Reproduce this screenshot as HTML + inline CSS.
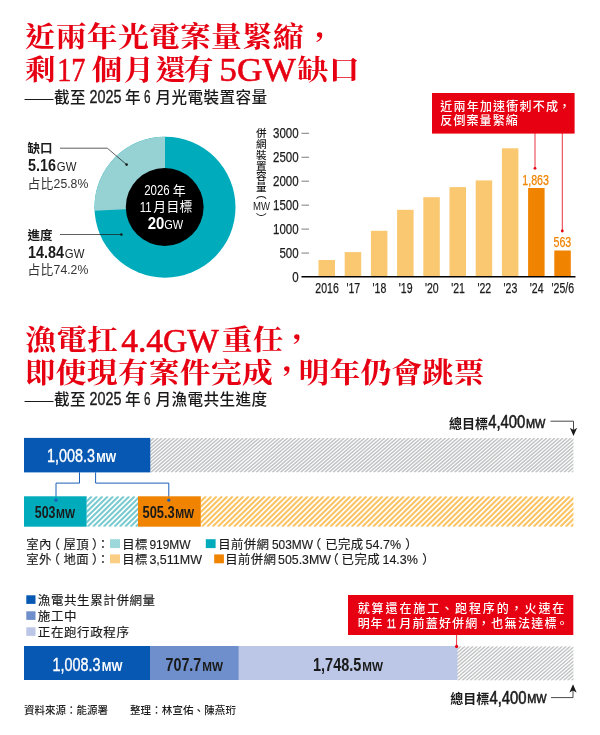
<!DOCTYPE html>
<html lang="zh-Hant">
<head>
<meta charset="utf-8">
<title>光電案量與漁電共生進度</title>
<style>
html,body{margin:0;padding:0;background:#fff;}
body{width:600px;height:735px;overflow:hidden;position:relative;}
svg{position:absolute;left:0;top:0;display:block;}
text{font-family:"Liberation Sans","Noto Sans CJK TC","Noto Sans CJK SC",sans-serif;fill:#1a1a1a;white-space:pre;}
.ttl{font-family:"Liberation Serif","Noto Serif CJK TC","Noto Serif CJK SC",serif;fill:#e60012;}
.tl{font-family:"Liberation Serif","Noto Serif CJK TC","Noto Serif CJK SC",serif;fill:#e60012;stroke:#e60012;stroke-width:0.55px;}
.w{fill:#fff;}
.g{fill:#333;}
.o{fill:#f08300;stroke:#f08300;stroke-width:.25px;}
.m{stroke:#1a1a1a;stroke-width:.25px;}
.m2{stroke:#1a1a1a;stroke-width:.15px;}
.m3{stroke:#1a1a1a;stroke-width:.35px;}
.mm{stroke:#1a1a1a;stroke-width:.6px;}
.wm{fill:#fff;stroke:#fff;stroke-width:.35px;}
</style>
</head>
<body>
<svg width="600" height="735" viewBox="0 0 600 735">
<g id="title1">
<text x="24.80" y="0" font-size="30.8" class="ttl" font-weight="700" letter-spacing="0.25" transform="translate(0 46.85) scale(1 0.92)">近兩年光電案量緊縮</text>
<text x="303.95" y="0" font-size="30.8" class="ttl" font-weight="700" letter-spacing="0.25" transform="translate(0 49.45) scale(1 0.92)">，</text>
<text x="24.80" y="0" font-size="30.8" class="ttl" font-weight="700" letter-spacing="0.25" transform="translate(0 80.00) scale(1 0.92)">剩</text>
<text x="57.20" y="81.40" font-size="33.5" class="tl" font-weight="400" textLength="28.34" lengthAdjust="spacingAndGlyphs">17</text>
<text x="91.70" y="0" font-size="30.8" class="ttl" font-weight="700" letter-spacing="0.25" transform="translate(0 80.00) scale(1 0.92)">個</text>
<text x="123.40" y="0" font-size="30.8" class="ttl" font-weight="700" letter-spacing="0.25" transform="translate(0 80.00) scale(1 0.92)">月</text>
<text x="155.60" y="0" font-size="30.8" class="ttl" font-weight="700" letter-spacing="0.25" transform="translate(0 80.00) scale(1 0.92)">還</text>
<text x="182.90" y="0" font-size="30.8" class="ttl" font-weight="700" letter-spacing="0.25" transform="translate(0 80.00) scale(1 0.92)">有</text>
<text x="219.30" y="81.40" font-size="33.5" class="tl" font-weight="400" textLength="76.55" lengthAdjust="spacingAndGlyphs">5GW</text>
<text x="297.60" y="0" font-size="30.8" class="ttl" font-weight="700" letter-spacing="0.25" transform="translate(0 80.00) scale(1 0.92)">缺口</text>
<text x="24.50" y="102.60" font-size="14.5" font-weight="500">——</text>
<text x="54.10" y="102.60" font-size="15.6" font-weight="500" letter-spacing="0.4">截至</text>
<text x="89.50" y="103.40" font-size="17.5" class="m3" font-weight="400" textLength="31.99" lengthAdjust="spacingAndGlyphs">2025</text>
<text x="125" y="102.60" font-size="15.6" font-weight="500" letter-spacing="0.4">年</text>
<text x="144" y="103.40" font-size="17.5" class="m3" font-weight="400" textLength="6.50" lengthAdjust="spacingAndGlyphs">6</text>
<text x="155.60" y="102.60" font-size="15.6" font-weight="500" letter-spacing="0.4">月光電裝置容量</text>
</g>
<g id="donut">
<circle cx="165" cy="207.2" r="70.5" fill="#00abbb"/>
<path d="M165 207.2 L165 136.7 A70.5 70.5 0 0 0 94.59 210.74 Z" fill="#96d1d4"/>
<circle cx="164.7" cy="207" r="38.9" fill="#000"/>
<text x="144.20" y="195.30" font-size="14.5" class="w" font-weight="400" textLength="25.48" lengthAdjust="spacingAndGlyphs">2026</text>
<text x="172.80" y="195" font-size="13" class="w" font-weight="400">年</text>
<text x="139.80" y="211.70" font-size="14.5" class="w" font-weight="400" textLength="11.89" lengthAdjust="spacingAndGlyphs">11</text>
<text x="153.30" y="211.40" font-size="12.8" class="w" font-weight="400" letter-spacing="0.3">月目標</text>
<text x="147.80" y="229.20" font-size="17" class="w" font-weight="700" textLength="16.64" lengthAdjust="spacingAndGlyphs">20</text>
<text x="164.20" y="229.20" font-size="12.5" class="w" font-weight="400" textLength="18.94" lengthAdjust="spacingAndGlyphs">GW</text>
<path d="M60 148.2 H107.3 L126.6 164.6" fill="none" stroke="#1a1a1a" stroke-width="0.7"/>
<circle cx="126.6" cy="164.6" r="1.3" fill="#1a1a1a"/>
<path d="M60 234.5 H121.4" fill="none" stroke="#1a1a1a" stroke-width="0.7"/>
<circle cx="121.4" cy="234.5" r="1.3" fill="#1a1a1a"/>
<text x="27.60" y="152.80" font-size="12.5" font-weight="700">缺口</text>
<text x="28" y="171.30" font-size="17" font-weight="700" textLength="28.02" lengthAdjust="spacingAndGlyphs">5.16</text>
<text x="56.82" y="171.30" font-size="13.5" font-weight="400" textLength="19.52" lengthAdjust="spacingAndGlyphs">GW</text>
<text x="27.60" y="187.60" font-size="12.8" class="g" font-weight="400">占比</text>
<text x="53.60" y="187.60" font-size="12.5" class="g" font-weight="400" textLength="34.73" lengthAdjust="spacingAndGlyphs">25.8%</text>
<text x="27.60" y="239.50" font-size="12.5" font-weight="700">進度</text>
<text x="28" y="258.30" font-size="17" font-weight="700" textLength="36.03" lengthAdjust="spacingAndGlyphs">14.84</text>
<text x="64.83" y="258.30" font-size="13.5" font-weight="400" textLength="19.52" lengthAdjust="spacingAndGlyphs">GW</text>
<text x="27.60" y="273.90" font-size="12.8" class="g" font-weight="400">占比</text>
<text x="53.60" y="273.90" font-size="12.5" class="g" font-weight="400" textLength="34.73" lengthAdjust="spacingAndGlyphs">74.2%</text>
</g>
<g id="bars">
<path d="M301.5 253.05 H309 M301.5 229.10 H309 M301.5 205.15 H309 M301.5 181.20 H309 M301.5 157.25 H309 M301.5 133.30 H309" stroke="#444" stroke-width="0.7" fill="none"/>
<text x="292.19" y="282" font-size="14.4" class="m" textLength="6.41" lengthAdjust="spacingAndGlyphs">0</text>
<text x="279.38" y="258.05" font-size="14.4" class="m" textLength="19.22" lengthAdjust="spacingAndGlyphs">500</text>
<text x="272.97" y="234.10" font-size="14.4" class="m" textLength="25.63" lengthAdjust="spacingAndGlyphs">1000</text>
<text x="272.97" y="210.15" font-size="14.4" class="m" textLength="25.63" lengthAdjust="spacingAndGlyphs">1500</text>
<text x="272.97" y="186.20" font-size="14.4" class="m" textLength="25.63" lengthAdjust="spacingAndGlyphs">2000</text>
<text x="272.97" y="162.25" font-size="14.4" class="m" textLength="25.63" lengthAdjust="spacingAndGlyphs">2500</text>
<text x="272.97" y="138.30" font-size="14.4" class="m" textLength="25.63" lengthAdjust="spacingAndGlyphs">3000</text>
<rect x="318.5" y="260" width="16.5" height="17.0" fill="#f9c871"/>
<rect x="344.7" y="252.1" width="16.5" height="24.9" fill="#f9c871"/>
<rect x="370.9" y="230.8" width="16.5" height="46.2" fill="#f9c871"/>
<rect x="397.1" y="209.8" width="16.5" height="67.2" fill="#f9c871"/>
<rect x="423.3" y="197.2" width="16.5" height="79.8" fill="#f9c871"/>
<rect x="449.5" y="187.1" width="16.5" height="89.9" fill="#f9c871"/>
<rect x="475.7" y="180.4" width="16.5" height="96.6" fill="#f9c871"/>
<rect x="501.9" y="148.3" width="16.5" height="128.7" fill="#f9c871"/>
<rect x="528.1" y="188" width="16.5" height="89.0" fill="#f08300"/>
<rect x="554.3" y="250.5" width="16.5" height="26.5" fill="#f08300"/>
<path d="M301.5 276.8 H575.5" stroke="#000" stroke-width="1.6"/>
<text x="315.36" y="293" font-size="14.4" class="m" textLength="23.39" lengthAdjust="spacingAndGlyphs">2016</text>
<text x="346.40" y="293" font-size="14.4" class="m" textLength="13.70" lengthAdjust="spacingAndGlyphs">'17</text>
<text x="372.60" y="293" font-size="14.4" class="m" textLength="13.70" lengthAdjust="spacingAndGlyphs">'18</text>
<text x="398.80" y="293" font-size="14.4" class="m" textLength="13.70" lengthAdjust="spacingAndGlyphs">'19</text>
<text x="425" y="293" font-size="14.4" class="m" textLength="13.70" lengthAdjust="spacingAndGlyphs">'20</text>
<text x="451.20" y="293" font-size="14.4" class="m" textLength="13.70" lengthAdjust="spacingAndGlyphs">'21</text>
<text x="477.40" y="293" font-size="14.4" class="m" textLength="13.70" lengthAdjust="spacingAndGlyphs">'22</text>
<text x="503.60" y="293" font-size="14.4" class="m" textLength="13.70" lengthAdjust="spacingAndGlyphs">'23</text>
<text x="529.80" y="293" font-size="14.4" class="m" textLength="13.70" lengthAdjust="spacingAndGlyphs">'24</text>
<text x="551.62" y="293" font-size="14.4" class="m" textLength="22.47" lengthAdjust="spacingAndGlyphs">'25/6</text>
<text x="522.27" y="185.30" font-size="14.4" class="o" textLength="26.67" lengthAdjust="spacingAndGlyphs">1,863</text>
<text x="553.51" y="246.90" font-size="14.4" class="o" textLength="17.78" lengthAdjust="spacingAndGlyphs">563</text>
<text x="256" y="137" font-size="10.6" font-weight="500">併</text>
<text x="256" y="147.85" font-size="10.6" font-weight="500">網</text>
<text x="256" y="158.70" font-size="10.6" font-weight="500">裝</text>
<text x="256" y="169.55" font-size="10.6" font-weight="500">置</text>
<text x="256" y="180.40" font-size="10.6" font-weight="500">容</text>
<text x="256" y="191.25" font-size="10.6" font-weight="500">量</text>
<text x="256" y="197.60" font-size="10.6" font-weight="500">︵</text>
<text x="253.01" y="210" font-size="10.5" textLength="16.98" lengthAdjust="spacingAndGlyphs">MW</text>
<text x="256" y="221.60" font-size="10.6" font-weight="500">︶</text>
<rect x="432" y="93" width="142.6" height="40.6" fill="#e60012"/>
<path d="M535 133 V168 M562.3 133 V231" stroke="#e60012" stroke-width="0.8" fill="none"/>
<circle cx="535" cy="168.3" r="1.4" fill="#e60012"/>
<circle cx="562.3" cy="231" r="1.4" fill="#e60012"/>
<text x="440.30" y="110.60" font-size="12" class="w" font-weight="500" letter-spacing="1.2">近兩年加速衝刺不成</text>
<text x="558.50" y="110.60" font-size="12" class="w" font-weight="500">，</text>
<text x="440.30" y="124.90" font-size="12" class="w" font-weight="500" letter-spacing="1.1">反倒案量緊縮</text>
</g>
<g id="title2">
<text x="25.30" y="0" font-size="30.8" class="ttl" font-weight="700" letter-spacing="0.25" transform="translate(0 350.30) scale(1 0.92)">漁電扛</text>
<text x="121.20" y="351.70" font-size="33.5" class="tl" font-weight="400" textLength="97.69" lengthAdjust="spacingAndGlyphs">4.4GW</text>
<text x="221.70" y="0" font-size="30.8" class="ttl" font-weight="700" letter-spacing="0.25" transform="translate(0 350.30) scale(1 0.92)">重任</text>
<text x="281.30" y="0" font-size="30.8" class="ttl" font-weight="700" letter-spacing="0.25" transform="translate(0 351.30) scale(1 0.92)">，</text>
<text x="24.70" y="0" font-size="30.8" class="ttl" font-weight="700" letter-spacing="0.25" transform="translate(0 382.55) scale(1 0.92)">即使現有案件完成</text>
<text x="271.20" y="0" font-size="30.8" class="ttl" font-weight="700" letter-spacing="0.25" transform="translate(0 383.05) scale(1 0.92)">，</text>
<text x="298.50" y="0" font-size="30.8" class="ttl" font-weight="700" letter-spacing="0.25" transform="translate(0 382.55) scale(1 0.92)">明年仍會跳票</text>
<text x="24.50" y="404.50" font-size="14.5" font-weight="500">——</text>
<text x="54.10" y="404.50" font-size="15.6" font-weight="500" letter-spacing="0.4">截至</text>
<text x="89.50" y="405.30" font-size="17.5" class="m3" font-weight="400" textLength="31.99" lengthAdjust="spacingAndGlyphs">2025</text>
<text x="125" y="404.50" font-size="15.6" font-weight="500" letter-spacing="0.4">年</text>
<text x="144" y="405.30" font-size="17.5" class="m3" font-weight="400" textLength="6.50" lengthAdjust="spacingAndGlyphs">6</text>
<text x="155.60" y="404.50" font-size="15.6" font-weight="500" letter-spacing="0.4">月漁電共生進度</text>
</g>
<g id="prog1">
<text x="449" y="427.60" font-size="13" font-weight="700">總目標</text>
<text x="488.20" y="428" font-size="18.5" class="mm" font-weight="400" textLength="37.11" lengthAdjust="spacingAndGlyphs">4,400</text>
<text x="526" y="427.80" font-size="12.8" class="mm" font-weight="400" textLength="19.40" lengthAdjust="spacingAndGlyphs">MW</text>
<path d="M550.5 421.2 H573.5 V430" fill="none" stroke="#1a1a1a" stroke-width="0.8"/>
<path d="M573.5 436 L569.9 427.8 L573.5 429.9 L577.1 427.8 Z" fill="#1a1a1a"/>
<clipPath id="hc1"><rect x="150" y="437.9" width="423.4" height="34.5"/></clipPath>
<path clip-path="url(#hc1)" d="M110.31 472.40l39.69 -34.50M114.36 472.40l39.69 -34.50M118.41 472.40l39.69 -34.50M122.46 472.40l39.69 -34.50M126.51 472.40l39.69 -34.50M130.56 472.40l39.69 -34.50M134.61 472.40l39.69 -34.50M138.66 472.40l39.69 -34.50M142.71 472.40l39.69 -34.50M146.76 472.40l39.69 -34.50M150.81 472.40l39.69 -34.50M154.86 472.40l39.69 -34.50M158.91 472.40l39.69 -34.50M162.96 472.40l39.69 -34.50M167.01 472.40l39.69 -34.50M171.06 472.40l39.69 -34.50M175.11 472.40l39.69 -34.50M179.16 472.40l39.69 -34.50M183.21 472.40l39.69 -34.50M187.26 472.40l39.69 -34.50M191.31 472.40l39.69 -34.50M195.36 472.40l39.69 -34.50M199.41 472.40l39.69 -34.50M203.46 472.40l39.69 -34.50M207.51 472.40l39.69 -34.50M211.56 472.40l39.69 -34.50M215.61 472.40l39.69 -34.50M219.66 472.40l39.69 -34.50M223.71 472.40l39.69 -34.50M227.76 472.40l39.69 -34.50M231.81 472.40l39.69 -34.50M235.86 472.40l39.69 -34.50M239.91 472.40l39.69 -34.50M243.96 472.40l39.69 -34.50M248.01 472.40l39.69 -34.50M252.06 472.40l39.69 -34.50M256.11 472.40l39.69 -34.50M260.16 472.40l39.69 -34.50M264.21 472.40l39.69 -34.50M268.26 472.40l39.69 -34.50M272.31 472.40l39.69 -34.50M276.36 472.40l39.69 -34.50M280.41 472.40l39.69 -34.50M284.46 472.40l39.69 -34.50M288.51 472.40l39.69 -34.50M292.56 472.40l39.69 -34.50M296.61 472.40l39.69 -34.50M300.66 472.40l39.69 -34.50M304.71 472.40l39.69 -34.50M308.76 472.40l39.69 -34.50M312.81 472.40l39.69 -34.50M316.86 472.40l39.69 -34.50M320.91 472.40l39.69 -34.50M324.96 472.40l39.69 -34.50M329.01 472.40l39.69 -34.50M333.06 472.40l39.69 -34.50M337.11 472.40l39.69 -34.50M341.16 472.40l39.69 -34.50M345.21 472.40l39.69 -34.50M349.26 472.40l39.69 -34.50M353.31 472.40l39.69 -34.50M357.36 472.40l39.69 -34.50M361.41 472.40l39.69 -34.50M365.46 472.40l39.69 -34.50M369.51 472.40l39.69 -34.50M373.56 472.40l39.69 -34.50M377.61 472.40l39.69 -34.50M381.66 472.40l39.69 -34.50M385.71 472.40l39.69 -34.50M389.76 472.40l39.69 -34.50M393.81 472.40l39.69 -34.50M397.86 472.40l39.69 -34.50M401.91 472.40l39.69 -34.50M405.96 472.40l39.69 -34.50M410.01 472.40l39.69 -34.50M414.06 472.40l39.69 -34.50M418.11 472.40l39.69 -34.50M422.16 472.40l39.69 -34.50M426.21 472.40l39.69 -34.50M430.26 472.40l39.69 -34.50M434.31 472.40l39.69 -34.50M438.36 472.40l39.69 -34.50M442.41 472.40l39.69 -34.50M446.46 472.40l39.69 -34.50M450.51 472.40l39.69 -34.50M454.56 472.40l39.69 -34.50M458.61 472.40l39.69 -34.50M462.66 472.40l39.69 -34.50M466.71 472.40l39.69 -34.50M470.76 472.40l39.69 -34.50M474.81 472.40l39.69 -34.50M478.86 472.40l39.69 -34.50M482.91 472.40l39.69 -34.50M486.96 472.40l39.69 -34.50M491.01 472.40l39.69 -34.50M495.06 472.40l39.69 -34.50M499.11 472.40l39.69 -34.50M503.16 472.40l39.69 -34.50M507.21 472.40l39.69 -34.50M511.26 472.40l39.69 -34.50M515.31 472.40l39.69 -34.50M519.36 472.40l39.69 -34.50M523.41 472.40l39.69 -34.50M527.46 472.40l39.69 -34.50M531.51 472.40l39.69 -34.50M535.56 472.40l39.69 -34.50M539.61 472.40l39.69 -34.50M543.66 472.40l39.69 -34.50M547.71 472.40l39.69 -34.50M551.76 472.40l39.69 -34.50M555.81 472.40l39.69 -34.50M559.86 472.40l39.69 -34.50M563.91 472.40l39.69 -34.50M567.96 472.40l39.69 -34.50M572.01 472.40l39.69 -34.50" stroke="#c3c4c5" stroke-width="1.45" fill="none"/>
<rect x="24" y="437.9" width="126.3" height="34.5" fill="#0758b3"/>
<text x="47" y="462" font-size="18" class="wm" font-weight="400" textLength="48.01" lengthAdjust="spacingAndGlyphs">1,008.3</text>
<text x="96.20" y="462" font-size="13" class="w" font-weight="700" textLength="20.10" lengthAdjust="spacingAndGlyphs">MW</text>
<path d="M79.5 472.3 V483.1 H56 V500" fill="none" stroke="#1a5fb8" stroke-width="1"/>
<path d="M95.6 472.3 V483.1 H168.8 V500" fill="none" stroke="#1a5fb8" stroke-width="1"/>
<clipPath id="hc2"><rect x="200.7" y="496.3" width="372.7" height="30.4"/></clipPath>
<path clip-path="url(#hc2)" d="M169.76 526.70l30.94 -30.40M175.11 526.70l30.94 -30.40M180.46 526.70l30.94 -30.40M185.81 526.70l30.94 -30.40M191.16 526.70l30.94 -30.40M196.51 526.70l30.94 -30.40M201.86 526.70l30.94 -30.40M207.21 526.70l30.94 -30.40M212.56 526.70l30.94 -30.40M217.91 526.70l30.94 -30.40M223.26 526.70l30.94 -30.40M228.61 526.70l30.94 -30.40M233.96 526.70l30.94 -30.40M239.31 526.70l30.94 -30.40M244.66 526.70l30.94 -30.40M250.01 526.70l30.94 -30.40M255.36 526.70l30.94 -30.40M260.71 526.70l30.94 -30.40M266.06 526.70l30.94 -30.40M271.41 526.70l30.94 -30.40M276.76 526.70l30.94 -30.40M282.11 526.70l30.94 -30.40M287.46 526.70l30.94 -30.40M292.81 526.70l30.94 -30.40M298.16 526.70l30.94 -30.40M303.51 526.70l30.94 -30.40M308.86 526.70l30.94 -30.40M314.21 526.70l30.94 -30.40M319.56 526.70l30.94 -30.40M324.91 526.70l30.94 -30.40M330.26 526.70l30.94 -30.40M335.61 526.70l30.94 -30.40M340.96 526.70l30.94 -30.40M346.31 526.70l30.94 -30.40M351.66 526.70l30.94 -30.40M357.01 526.70l30.94 -30.40M362.36 526.70l30.94 -30.40M367.71 526.70l30.94 -30.40M373.06 526.70l30.94 -30.40M378.41 526.70l30.94 -30.40M383.76 526.70l30.94 -30.40M389.11 526.70l30.94 -30.40M394.46 526.70l30.94 -30.40M399.81 526.70l30.94 -30.40M405.16 526.70l30.94 -30.40M410.51 526.70l30.94 -30.40M415.86 526.70l30.94 -30.40M421.21 526.70l30.94 -30.40M426.56 526.70l30.94 -30.40M431.91 526.70l30.94 -30.40M437.26 526.70l30.94 -30.40M442.61 526.70l30.94 -30.40M447.96 526.70l30.94 -30.40M453.31 526.70l30.94 -30.40M458.66 526.70l30.94 -30.40M464.01 526.70l30.94 -30.40M469.36 526.70l30.94 -30.40M474.71 526.70l30.94 -30.40M480.06 526.70l30.94 -30.40M485.41 526.70l30.94 -30.40M490.76 526.70l30.94 -30.40M496.11 526.70l30.94 -30.40M501.46 526.70l30.94 -30.40M506.81 526.70l30.94 -30.40M512.16 526.70l30.94 -30.40M517.51 526.70l30.94 -30.40M522.86 526.70l30.94 -30.40M528.21 526.70l30.94 -30.40M533.56 526.70l30.94 -30.40M538.91 526.70l30.94 -30.40M544.26 526.70l30.94 -30.40M549.61 526.70l30.94 -30.40M554.96 526.70l30.94 -30.40M560.31 526.70l30.94 -30.40M565.66 526.70l30.94 -30.40M571.01 526.70l30.94 -30.40" stroke="#fac363" stroke-width="2.1" fill="none"/>
<clipPath id="hc3"><rect x="86.5" y="496.3" width="52" height="30.4"/></clipPath>
<path clip-path="url(#hc3)" d="M55.56 526.70l30.94 -30.40M60.91 526.70l30.94 -30.40M66.26 526.70l30.94 -30.40M71.61 526.70l30.94 -30.40M76.96 526.70l30.94 -30.40M82.31 526.70l30.94 -30.40M87.66 526.70l30.94 -30.40M93.01 526.70l30.94 -30.40M98.36 526.70l30.94 -30.40M103.71 526.70l30.94 -30.40M109.06 526.70l30.94 -30.40M114.41 526.70l30.94 -30.40M119.76 526.70l30.94 -30.40M125.11 526.70l30.94 -30.40M130.46 526.70l30.94 -30.40M135.81 526.70l30.94 -30.40" stroke="#7acbd0" stroke-width="2.1" fill="none"/>
<rect x="24" y="496.3" width="62.6" height="30.4" fill="#00abbb"/>
<rect x="138" y="496.3" width="62.8" height="30.4" fill="#f08300"/>
<circle cx="56" cy="500.2" r="1.6" fill="#1a5fb8"/>
<circle cx="168.8" cy="500.2" r="1.6" fill="#1a5fb8"/>
<text x="34.80" y="518.20" font-size="17" font-weight="700" textLength="20.71" lengthAdjust="spacingAndGlyphs">503</text>
<text x="56" y="518.20" font-size="12.8" font-weight="700" textLength="19.00" lengthAdjust="spacingAndGlyphs">MW</text>
<text x="142.50" y="518.20" font-size="17" font-weight="700" textLength="32.21" lengthAdjust="spacingAndGlyphs">505.3</text>
<text x="175.20" y="518.20" font-size="12.8" font-weight="700" textLength="19.00" lengthAdjust="spacingAndGlyphs">MW</text>
</g>
<g id="legend1">
<text x="26.30" y="548.60" font-size="12.4" class="m2" font-weight="400" letter-spacing="0.4">室內</text>
<text x="47.40" y="548.60" font-size="12.4" class="m2" font-weight="400" letter-spacing="0.4">（</text>
<text x="63.40" y="548.60" font-size="12.4" class="m2" font-weight="400" letter-spacing="0.4">屋頂</text>
<text x="92" y="548.60" font-size="12.4" class="m2" font-weight="400" letter-spacing="0.4">）</text>
<text x="96.80" y="548.60" font-size="12.4" class="m2" font-weight="400" letter-spacing="0.4">：</text>
<text x="122.20" y="548.60" font-size="12.4" class="m2" font-weight="400" letter-spacing="0.4">目標</text>
<text x="149.40" y="548.60" font-size="13.5" class="m2" font-weight="400" textLength="41.20" lengthAdjust="spacingAndGlyphs">919MW</text>
<text x="218.20" y="548.60" font-size="12.4" class="m2" font-weight="400" letter-spacing="0.4">目前併網</text>
<text x="272" y="548.60" font-size="13.5" class="m2" font-weight="400" textLength="41.00" lengthAdjust="spacingAndGlyphs">503MW</text>
<text x="308.80" y="548.60" font-size="12.4" class="m2" font-weight="400" letter-spacing="0.4">（</text>
<text x="325.20" y="548.60" font-size="12.4" class="m2" font-weight="400" letter-spacing="0.4">已完成</text>
<text x="365.60" y="548.60" font-size="13.5" class="m2" font-weight="400" textLength="35.41" lengthAdjust="spacingAndGlyphs">54.7%</text>
<text x="405.20" y="548.60" font-size="12.4" class="m2" font-weight="400" letter-spacing="0.4">）</text>
<text x="26.30" y="564.20" font-size="12.4" class="m2" font-weight="400" letter-spacing="0.4">室外</text>
<text x="47.40" y="564.20" font-size="12.4" class="m2" font-weight="400" letter-spacing="0.4">（</text>
<text x="63.40" y="564.20" font-size="12.4" class="m2" font-weight="400" letter-spacing="0.4">地面</text>
<text x="92" y="564.20" font-size="12.4" class="m2" font-weight="400" letter-spacing="0.4">）</text>
<text x="96.80" y="564.20" font-size="12.4" class="m2" font-weight="400" letter-spacing="0.4">：</text>
<text x="122.20" y="564.20" font-size="12.4" class="m2" font-weight="400" letter-spacing="0.4">目標</text>
<text x="149.40" y="564.20" font-size="13.5" class="m2" font-weight="400" textLength="52.60" lengthAdjust="spacingAndGlyphs">3,511MW</text>
<text x="225.20" y="564.20" font-size="12.4" class="m2" font-weight="400" letter-spacing="0.4">目前併網</text>
<text x="278" y="564.20" font-size="13.5" class="m2" font-weight="400" textLength="53.00" lengthAdjust="spacingAndGlyphs">505.3MW</text>
<text x="326.20" y="564.20" font-size="12.4" class="m2" font-weight="400" letter-spacing="0.4">（</text>
<text x="341.60" y="564.20" font-size="12.4" class="m2" font-weight="400" letter-spacing="0.4">已完成</text>
<text x="382.40" y="564.20" font-size="13.5" class="m2" font-weight="400" textLength="35.61" lengthAdjust="spacingAndGlyphs">14.3%</text>
<text x="422.30" y="564.20" font-size="12.4" class="m2" font-weight="400" letter-spacing="0.4">）</text>
<rect x="110" y="539.2" width="10" height="8.9" fill="#a6dbde"/>
<clipPath id="hc4"><rect x="110" y="539.2" width="10" height="8.9"/></clipPath>
<path clip-path="url(#hc4)" d="M100.62 548.10l9.38 -8.90M102.62 548.10l9.38 -8.90M104.62 548.10l9.38 -8.90M106.62 548.10l9.38 -8.90M108.62 548.10l9.38 -8.90M110.62 548.10l9.38 -8.90M112.62 548.10l9.38 -8.90M114.62 548.10l9.38 -8.90M116.62 548.10l9.38 -8.90M118.62 548.10l9.38 -8.90" stroke="#8fd2d6" stroke-width="0.7" fill="none"/>
<rect x="205.8" y="539.2" width="9.8" height="8.9" fill="#00abbb"/>
<rect x="110" y="554.4" width="10" height="8.9" fill="#fbd391"/>
<clipPath id="hc5"><rect x="110" y="554.4" width="10" height="8.9"/></clipPath>
<path clip-path="url(#hc5)" d="M100.62 563.30l9.38 -8.90M102.62 563.30l9.38 -8.90M104.62 563.30l9.38 -8.90M106.62 563.30l9.38 -8.90M108.62 563.30l9.38 -8.90M110.62 563.30l9.38 -8.90M112.62 563.30l9.38 -8.90M114.62 563.30l9.38 -8.90M116.62 563.30l9.38 -8.90M118.62 563.30l9.38 -8.90" stroke="#f9c570" stroke-width="0.7" fill="none"/>
<rect x="214.2" y="554.4" width="9.7" height="8.9" fill="#f08300"/>
</g>
<g id="prog2">
<rect x="26.3" y="595.3" width="9.2" height="8.6" fill="#0758b3"/>
<rect x="26.3" y="611.3" width="9.2" height="8.6" fill="#6e8fcb"/>
<rect x="26.3" y="627.3" width="9.2" height="8.6" fill="#bcc6e6"/>
<text x="37.80" y="605" font-size="12.5" class="m2" font-weight="400" letter-spacing="0.6">漁電共生累計併網量</text>
<text x="37.80" y="620.80" font-size="12.5" class="m2" font-weight="400" letter-spacing="0.6">施工中</text>
<text x="37.80" y="636.60" font-size="12.5" class="m2" font-weight="400" letter-spacing="0.6">正在跑行政程序</text>
<clipPath id="hc6"><rect x="457" y="646.2" width="116.4" height="34.3"/></clipPath>
<path clip-path="url(#hc6)" d="M417.54 680.50l39.46 -34.30M421.59 680.50l39.46 -34.30M425.64 680.50l39.46 -34.30M429.69 680.50l39.46 -34.30M433.74 680.50l39.46 -34.30M437.79 680.50l39.46 -34.30M441.84 680.50l39.46 -34.30M445.89 680.50l39.46 -34.30M449.94 680.50l39.46 -34.30M453.99 680.50l39.46 -34.30M458.04 680.50l39.46 -34.30M462.09 680.50l39.46 -34.30M466.14 680.50l39.46 -34.30M470.19 680.50l39.46 -34.30M474.24 680.50l39.46 -34.30M478.29 680.50l39.46 -34.30M482.34 680.50l39.46 -34.30M486.39 680.50l39.46 -34.30M490.44 680.50l39.46 -34.30M494.49 680.50l39.46 -34.30M498.54 680.50l39.46 -34.30M502.59 680.50l39.46 -34.30M506.64 680.50l39.46 -34.30M510.69 680.50l39.46 -34.30M514.74 680.50l39.46 -34.30M518.79 680.50l39.46 -34.30M522.84 680.50l39.46 -34.30M526.89 680.50l39.46 -34.30M530.94 680.50l39.46 -34.30M534.99 680.50l39.46 -34.30M539.04 680.50l39.46 -34.30M543.09 680.50l39.46 -34.30M547.14 680.50l39.46 -34.30M551.19 680.50l39.46 -34.30M555.24 680.50l39.46 -34.30M559.29 680.50l39.46 -34.30M563.34 680.50l39.46 -34.30M567.39 680.50l39.46 -34.30M571.44 680.50l39.46 -34.30" stroke="#c3c4c5" stroke-width="1.45" fill="none"/>
<rect x="24" y="646" width="126.3" height="34" fill="#0758b3"/>
<rect x="150" y="646" width="89" height="34" fill="#6e8fcb"/>
<rect x="238.6" y="646" width="218.8" height="34" fill="#bcc6e6"/>
<text x="52.50" y="670.50" font-size="17.5" class="wm" font-weight="400" textLength="48.01" lengthAdjust="spacingAndGlyphs">1,008.3</text>
<text x="101.80" y="670.50" font-size="13.5" class="w" font-weight="700" textLength="20.70" lengthAdjust="spacingAndGlyphs">MW</text>
<text x="165.50" y="670.50" font-size="17.5" font-weight="700" textLength="35.81" lengthAdjust="spacingAndGlyphs">707.7</text>
<text x="202.30" y="670.50" font-size="13.5" font-weight="700" textLength="20.70" lengthAdjust="spacingAndGlyphs">MW</text>
<text x="313" y="670.50" font-size="17.5" font-weight="700" textLength="48.31" lengthAdjust="spacingAndGlyphs">1,748.5</text>
<text x="362.30" y="670.50" font-size="13.5" font-weight="700" textLength="20.70" lengthAdjust="spacingAndGlyphs">MW</text>
<rect x="348" y="595" width="225.3" height="40" fill="#e60012"/>
<path d="M456.6 634.8 V646" stroke="#e60012" stroke-width="0.8"/>
<circle cx="456.6" cy="646.4" r="1.6" fill="#e60012"/>
<text x="357.70" y="612.70" font-size="12" class="w" font-weight="500" letter-spacing="1.9">就算還在施工、跑程序的，火速在</text>
<text x="357.70" y="627.50" font-size="12" class="w" font-weight="500" letter-spacing="0.9">明年</text>
<text x="386.90" y="627.50" font-size="13" class="wm" font-weight="400" textLength="9.10" lengthAdjust="spacingAndGlyphs">11</text>
<text x="399.30" y="627.50" font-size="12" class="w" font-weight="500" letter-spacing="1.2">月前蓋好併網</text>
<text x="477.80" y="627.50" font-size="12" class="w" font-weight="500">，</text>
<text x="491.30" y="627.50" font-size="12" class="w" font-weight="500" letter-spacing="1.3">也無法達標</text>
<text x="556" y="627.50" font-size="12" class="w" font-weight="500">。</text>
<text x="450.20" y="703.20" font-size="13" font-weight="700">總目標</text>
<text x="489.40" y="703.60" font-size="18.5" class="mm" font-weight="400" textLength="37.11" lengthAdjust="spacingAndGlyphs">4,400</text>
<text x="527.20" y="703.40" font-size="12.8" class="mm" font-weight="400" textLength="19.40" lengthAdjust="spacingAndGlyphs">MW</text>
<path d="M551 697.6 H573 V690" fill="none" stroke="#1a1a1a" stroke-width="0.8"/>
<path d="M573 684.3 L569.4 692.5 L573 690.4 L576.6 692.5 Z" fill="#1a1a1a"/>
</g>
<g id="footer">
<text x="24" y="714.20" font-size="10.5" font-weight="500">資料來源：能源署</text>
<text x="130" y="714.20" font-size="10.5" font-weight="500" letter-spacing="0.1">整理：林宣佑、陳燕珩</text>
</g>
</svg>
</body>
</html>
